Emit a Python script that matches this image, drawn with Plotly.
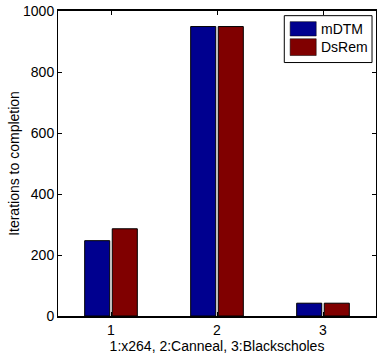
import plotly.graph_objects as go

categories = [1, 2, 3]
series_names = ["mDTM", "DsRem"]
mdtm = [247, 949, 42]
dsrem = [286, 949, 42]
colors = ["#00008f", "#800000"]
y_ticks = [0, 200, 400, 600, 800, 1000]

fig = go.Figure()
for name, vals, col in zip(series_names, [mdtm, dsrem], colors):
    fig.add_trace(go.Bar(
        x=categories, y=vals, name=name,
        marker=dict(color=col, line=dict(color="black", width=1)),
        showlegend=False,
    ))

FAMILY = "Liberation Sans, Arial, sans-serif"
font = dict(family=FAMILY, size=14, color="black")

# Boxed legend with large swatches, placed in the upper-right corner of the axes
shapes = [dict(type="rect", xref="paper", yref="paper",
               x0=0.7116, x1=0.9875, y0=0.831, y1=0.9847,
               line=dict(color="black", width=1), fillcolor="white", layer="above")]
annotations = []
rows = [(0.965, 0.918, 0.942), (0.909, 0.854, 0.881)]
for (y_top, y_bot, y_mid), name, col in zip(rows, series_names, colors):
    shapes.append(dict(type="rect", xref="paper", yref="paper",
                       x0=0.730, x1=0.812, y0=y_bot, y1=y_top,
                       line=dict(color="black", width=0.5), fillcolor=col,
                       layer="above"))
    annotations.append(dict(xref="paper", yref="paper", x=0.822, y=y_mid,
                            text=name, showarrow=False, xanchor="left",
                            yanchor="middle", font=font))

fig.update_layout(
    width=380, height=362,
    margin=dict(l=58, r=3, t=8, b=46),
    paper_bgcolor="white", plot_bgcolor="white",
    barmode="group", bargap=0.48, bargroupgap=0.09,
    font=font,
    shapes=shapes, annotations=annotations,
    xaxis=dict(
        range=[0.5, 3.5], tickvals=categories, ticktext=[str(c) for c in categories],
        ticks="inside", ticklen=4, tickcolor="black",
        showline=True, linecolor="black", linewidth=1.5, mirror="ticks",
        showgrid=False, zeroline=False, tickfont=font,
        title=dict(text="1:x264, 2:Canneal, 3:Blackscholes", standoff=2, font=font),
    ),
    yaxis=dict(
        range=[0, 1000], tickvals=y_ticks,
        ticks="inside", ticklen=4, tickcolor="black",
        showline=True, linecolor="black", linewidth=1, mirror="ticks",
        showgrid=False, zeroline=False, tickfont=font,
        ticklabeloverflow="allow",
        title=dict(text="Iterations to completion", standoff=0, font=font),
    ),
)

fig.write_html("out.html")
